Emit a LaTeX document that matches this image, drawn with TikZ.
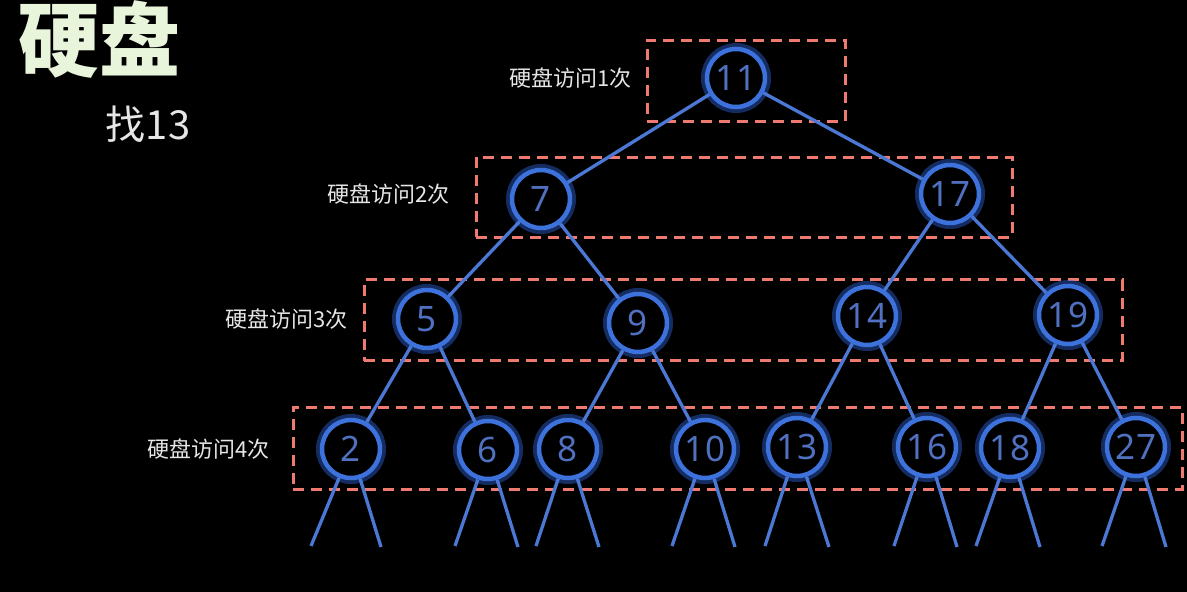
\documentclass[tikz,border=0pt]{standalone}
\usepackage{fontspec}
\setmainfont{Noto Sans}
\newfontfamily\cjk{Noto Sans CJK SC}
\definecolor{bg}{HTML}{000000}
\definecolor{nodeblue}{HTML}{3D72DC}
\definecolor{glowblue}{HTML}{2F62D8}
\definecolor{numblue}{HTML}{5070C0}
\definecolor{edgeblue}{HTML}{4A78D4}
\definecolor{boxred}{HTML}{EE7A70}
\definecolor{titlecol}{HTML}{E9F5DA}
\definecolor{labcol}{HTML}{E6E6E6}
\tikzset{
  tnode/.style={circle, minimum size=58pt, inner sep=0pt, fill=black, draw=nodeblue, line width=4.5pt,
    text=numblue, font=\fontsize{35}{35}\selectfont,
    preaction={draw=glowblue, line width=12pt, draw opacity=0.45}},
  edge/.style={draw=edgeblue, line width=3.3pt},
  levelbox/.style={draw=boxred, line width=3pt, dash pattern=on 11pt off 7pt},
  levellabel/.style={anchor=east, text=labcol, font=\cjk\fontsize{22}{22}\selectfont, inner sep=0pt}
}
\begin{document}
\begin{tikzpicture}[x=1pt,y=-1pt]
\fill[bg] (0,0) rectangle (1187,592);
\useasboundingbox (0,0) rectangle (1187,592);
% title
\node[text=titlecol, font=\cjk\bfseries\fontsize{81}{81}\selectfont, inner sep=0pt] (title) at (100,39) {硬盘};
\node[text=labcol, font=\cjk\fontsize{40}{40}\selectfont, inner sep=0pt] (find) at (148,124) {找13};
% boxes
\node[levelbox, minimum width=198pt, minimum height=81pt, inner sep=0pt] (b1) at (746,80.5) {};
\node[levelbox, minimum width=536pt, minimum height=80pt, inner sep=0pt] (b2) at (744,197) {};
\node[levelbox, minimum width=758pt, minimum height=81pt, inner sep=0pt] (b3) at (743,320) {};
\node[levelbox, minimum width=889pt, minimum height=82pt, inner sep=0pt] (b4) at (737.5,448) {};
% labels
\node[levellabel] (l1) at (632,78) {硬盘访问1次};
\node[levellabel] (l2) at (450,194) {硬盘访问2次};
\node[levellabel] (l3) at (348,319) {硬盘访问3次};
\node[levellabel] (l4) at (270,449) {硬盘访问4次};
% nodes
\node[tnode] (n11) at (736,78) {11};
\node[tnode] (n7) at (541,199) {7};
\node[tnode] (n17) at (950,194) {17};
\node[tnode] (n5) at (427,319) {5};
\node[tnode] (n9) at (638,323) {9};
\node[tnode] (n14) at (867,316) {14};
\node[tnode] (n19) at (1068,315) {19};
\node[tnode] (n2) at (351,449) {2};
\node[tnode] (n6) at (488,450) {6};
\node[tnode] (n8) at (568,449) {8};
\node[tnode] (n10) at (705,449) {10};
\node[tnode] (n13) at (797,447) {13};
\node[tnode] (n16) at (927,447) {16};
\node[tnode] (n18) at (1010,448) {18};
\node[tnode] (n27) at (1136,447) {27};
% edges
\draw[edge] (n11) -- (n7);
\draw[edge] (n11) -- (n17);
\draw[edge] (n7) -- (n5);
\draw[edge] (n7) -- (n9);
\draw[edge] (n17) -- (n14);
\draw[edge] (n17) -- (n19);
\draw[edge] (n5) -- (n2);
\draw[edge] (n5) -- (n6);
\draw[edge] (n9) -- (n8);
\draw[edge] (n9) -- (n10);
\draw[edge] (n14) -- (n13);
\draw[edge] (n14) -- (n16);
\draw[edge] (n19) -- (n18);
\draw[edge] (n19) -- (n27);
% leaf stubs
\foreach \n/\a/\b in {n2/311/381, n6/455/518, n8/536/599, n10/672/735, n13/765/829, n16/894/957, n18/976/1040, n27/1102/1166}{
  \coordinate (\n-L) at (\a,546);
  \coordinate (\n-R) at (\b,547);
  \draw[edge] (\n) -- (\n-L);
  \draw[edge] (\n) -- (\n-R);
}
\end{tikzpicture}
\end{document}
